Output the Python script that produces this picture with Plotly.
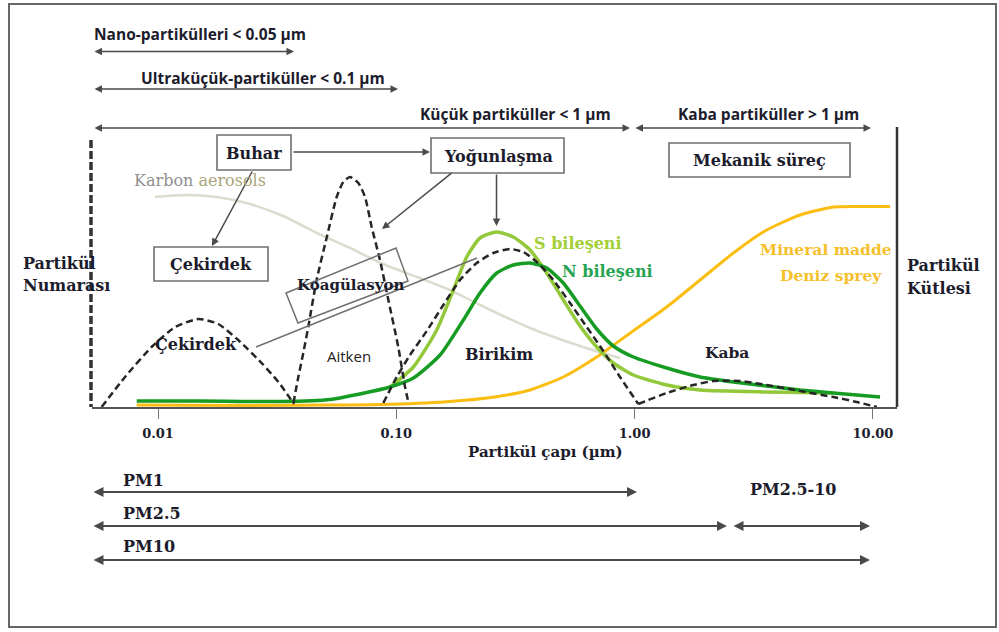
import plotly.graph_objects as go

# ---- particle size distributions: diameter (µm) vs relative amount ----
# nucleation mode (Çekirdek)
nuc_d = [0.0058, 0.00727, 0.0094, 0.0118, 0.0148, 0.0179, 0.0217, 0.0272, 0.032, 0.0372]
nuc_n = [0, 30, 60, 80, 88, 83, 67, 44, 25, 3]

# Aitken mode
aitken_d = [0.0370, 0.0388, 0.0407, 0.0427, 0.0463, 0.0511, 0.0562, 0.0599, 0.0639,
            0.0693, 0.0739, 0.0788, 0.0854, 0.0926, 0.1019, 0.1088, 0.1123]
aitken_n = [4, 30, 54, 80, 127, 170, 210, 225, 230, 224, 210, 180, 147, 107, 60, 20, 5]

# accumulation mode (Birikim)
acc_d = [0.0882, 0.1004, 0.1141, 0.1342, 0.1575, 0.185, 0.2175, 0.2554, 0.300,
         0.3412, 0.3884, 0.456, 0.5357, 0.6295, 0.739, 0.8683, 1.036]
acc_n = [4, 30, 52, 76, 102, 127, 144, 154, 158, 155, 145, 127, 104, 80, 56, 30, 3]

# coarse mode (Kaba)
coarse_d = [1.036, 1.364, 1.763, 2.139, 2.769, 3.584, 4.944, 6.821, 8.551, 10.38]
coarse_n = [3, 14, 22, 26, 26, 22, 16, 10, 5, 0]

# sulphur component (S bileşeni)
s_d = [0.0941, 0.1179, 0.1478, 0.1735, 0.1974, 0.2245, 0.2638, 0.3097, 0.364, 0.4277,
       0.5022, 0.5901, 0.6934, 0.8139, 0.9874, 1.364, 1.882, 3.584, 6.821]
s_n = [20, 40, 77, 117, 150, 169, 175, 170, 157, 134, 107, 81, 60, 44, 32, 22, 17, 15, 14]

# nitrogen component (N bileşeni)
n_d = [0.00814, 0.015, 0.0325, 0.0527, 0.0727, 0.0941, 0.1179, 0.1526, 0.1911, 0.2245,
       0.2638, 0.3097, 0.364, 0.4277, 0.5022, 0.5901, 0.6934, 0.8139, 0.9874, 1.364,
       1.882, 2.596, 3.584, 4.944, 6.821, 10.71]
n_n = [6, 6, 5.5, 7.5, 13.7, 20, 29, 52, 87, 114, 134, 142, 144, 139, 124, 101, 78, 61,
       50, 39, 30, 25, 21, 17, 14, 10]

# mineral matter / sea spray (Mineral madde, Deniz sprey)
min_d = [0.00814, 0.0243, 0.0527, 0.0854, 0.1627, 0.2638, 0.364, 0.5022, 0.6934, 0.9584,
         1.364, 1.882, 2.596, 3.584, 4.944, 6.821, 9.419, 11.8]
min_n = [2, 1.5, 2, 2.5, 5.3, 10.3, 17, 30, 50, 74, 100, 127, 154, 177, 192, 200, 200.5, 200.5]

# carbon aerosols (Karbon aerosols)
carb_d = [0.00971, 0.013, 0.0177, 0.0243, 0.0335, 0.0465, 0.0639, 0.088, 0.1222, 0.168,
          0.2245, 0.364, 0.5901, 0.8116, 0.8683]
carb_n = [210, 212, 210, 203, 191, 174, 159, 143, 130, 117, 102, 79, 61, 51, 49]

# x axis ticks
tick_vals = [0.01, 0.1, 1, 10]
tick_text = ["0.01", "0.10", "1.00", "10.00"]

# ---- page geometry ----
W, H = 999, 632
L, R, T, B = 92, 102, 127, 225
PW = W - L - R
PH = H - T - B


def px(x):
    return (x - L) / PW


def py(y):
    return (H - B - y) / PH


SERIF = "DejaVu Serif"
SANS = "Open Sans"
INK = "#1c1c2c"
DASH_INK = "#262626"
LIGHT_GREEN = "#93c83a"
DARK_GREEN = "#169c22"
GOLD = "#fbbd10"
ARROW = "#4a4a4a"
BOX = "#707070"

fig = go.Figure()


def curve(d, n, color, width, dash=None):
    fig.add_trace(go.Scatter(
        x=d, y=n, mode="lines",
        line=dict(color=color, width=width, dash=dash, shape="spline", smoothing=0.6),
        hoverinfo="skip", showlegend=False))


curve(carb_d, carb_n, "#dcdcce", 2.5)
curve(min_d, min_n, GOLD, 3)
curve(s_d, s_n, LIGHT_GREEN, 3.5)
curve(n_d, n_n, DARK_GREEN, 3.5)
curve(nuc_d, nuc_n, DASH_INK, 2.5, "7px,4px")
curve(aitken_d, aitken_n, DASH_INK, 2.5, "7px,4px")
curve(acc_d, acc_n, DASH_INK, 2.5, "7px,4px")
curve(coarse_d, coarse_n, DASH_INK, 2.5, "7px,4px")

annotations = []


def label(x, y, text, size=16, color=INK, family=SERIF, weight="bold", xanchor="center"):
    annotations.append(dict(
        x=px(x), y=py(y), xref="paper", yref="paper", text=text, showarrow=False,
        xanchor=xanchor, yanchor="middle",
        font=dict(family=family, size=size, color=color, weight=weight)))


def arrow(x0, y0, x1, y1, both=False, color=ARROW, width=1.5, size=1.0):
    annotations.append(dict(
        x=px(x1), y=py(y1), xref="paper", yref="paper",
        ax=x0 - x1, ay=y0 - y1, axref="pixel", ayref="pixel",
        text="", showarrow=True, arrowhead=2, arrowsize=size, arrowwidth=width,
        arrowcolor=color, arrowside="end+start" if both else "end",
        startarrowhead=2, startarrowsize=size))


# size-class ranges above the chart
label(200, 34, "Nano-partikülleri < 0.05 µm", 15.5, family=SANS)
arrow(93, 51.5, 294, 51.5, both=True)
label(263, 78, "Ultraküçük-partiküller < 0.1 µm", 15.5, family=SANS)
arrow(93, 89, 398, 89, both=True)
label(515, 114, "Küçük partiküller < 1 µm", 15.5, family=SANS)
arrow(93, 128, 630, 128, both=True)
label(768, 114, "Kaba partiküller > 1 µm", 15.5, family=SANS)
arrow(634, 128, 871, 128, both=True)

# process boxes
label(254, 153, "Buhar")
label(498, 156, "Yoğunlaşma")
label(759, 160, "Mekanik süreç")
label(211, 264, "Çekirdek")
label(350, 285, "Koagülasyon", 15)

# connectors between processes
arrow(292, 152, 430, 152)
arrow(253, 170, 212, 246)
arrow(453, 172, 382, 229)
arrow(496.5, 173, 496.5, 226)

# labels inside the plot
label(200, 180, "Karbon <span style='color:#aaa478'>aerosols</span>", 16,
      color="#8f8f8f", weight="normal")
label(196, 344, "Çekirdek")
label(349, 356, "Aitken", 15, family=SANS, weight="normal", color="#222")
label(499, 354, "Birikim")
label(727, 352, "Kaba", 15.5)
label(578, 243, "S bileşeni", 16, color="#a2cf36")
label(607, 271, "N bileşeni", 16, color="#25a452")
label(826, 249, "Mineral madde", 15.5, color="#f7bf2c")
label(831, 275, "Deniz sprey", 15.5, color="#f7bf2c")
label(21, 263, "Partikül", xanchor="left")
label(21, 285, "Numarası", xanchor="left")
label(905, 265, "Partikül", xanchor="left")
label(905, 288, "Kütlesi", xanchor="left")

# axis title
label(545, 452, "Partikül çapı (µm)", 15)

# PM fractions below the chart
label(121, 480, "PM1", 16, xanchor="left")
arrow(92, 492, 637, 492, both=True, width=2)
label(121, 513, "PM2.5", 16, xanchor="left")
arrow(92, 526, 727, 526, both=True, width=2)
arrow(732, 526, 870, 526, both=True, width=2)
label(748, 489, "PM2.5-10", 16, xanchor="left")
label(121, 546, "PM10", 16, xanchor="left")
arrow(92, 560, 870, 560, both=True, width=2)

shapes = []


def box(x0, y0, x1, y1):
    shapes.append(dict(type="rect", xref="paper", yref="paper",
                       x0=px(x0), x1=px(x1), y0=py(y1), y1=py(y0),
                       line=dict(color=BOX, width=1.6)))


def seg(x0, y0, x1, y1, color=BOX, width=1.5, dash=None):
    shapes.append(dict(type="line", xref="paper", yref="paper",
                       x0=px(x0), x1=px(x1), y0=py(y0), y1=py(y1),
                       line=dict(color=color, width=width, dash=dash)))


# outer frame
shapes.append(dict(type="rect", xref="paper", yref="paper",
                   x0=px(9), x1=px(996), y0=py(627), y1=py(4),
                   line=dict(color="#666", width=2)))

box(217, 135, 291, 170)
box(431, 138, 564, 173)
box(669, 143, 850, 177)
box(154, 247, 268, 281)

# tilted coagulation frame
corners = [(286, 293), (396, 248), (408, 281), (298, 323)]
path = "M " + " L ".join(f"{px(a):.5f},{py(b):.5f}" for a, b in corners) + " Z"
shapes.append(dict(type="path", xref="paper", yref="paper", path=path,
                   line=dict(color=BOX, width=1.5)))
seg(256, 347, 477, 258)

# left (number) and right (mass) side bounds
seg(91, 140, 91, 407, color="#333", width=3.5, dash="8px,3px")
seg(897, 127, 897, 407, color="#333", width=2.5)

fig.update_layout(
    width=W, height=H, autosize=False,
    margin=dict(l=L, r=R, t=T, b=B, pad=0),
    paper_bgcolor="white", plot_bgcolor="white",
    showlegend=False,
    annotations=annotations, shapes=shapes,
    xaxis=dict(type="log", range=[-2.277, 1.101], showgrid=False, zeroline=False,
               showline=True, linecolor="#555", linewidth=1.5,
               ticks="outside", ticklen=10, tickcolor="#777", tickwidth=1,
               tickvals=tick_vals, ticktext=tick_text, ticklabelstandoff=4,
               tickfont=dict(family=SERIF, size=13, color=INK, weight="bold")),
    yaxis=dict(range=[0, 280], visible=False, fixedrange=True),
)

fig.write_html("out.html")
